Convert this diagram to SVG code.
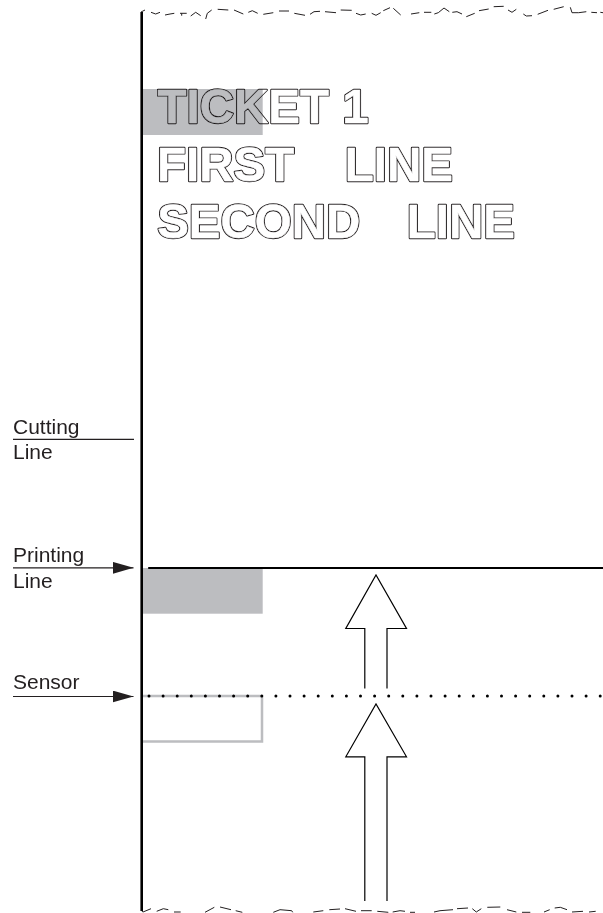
<svg xmlns="http://www.w3.org/2000/svg" width="603" height="913" viewBox="0 0 603 913">
<style>
.lbl{font-family:"Liberation Sans",Arial,sans-serif;font-size:21px;fill:#231f20}
.big{font-family:"Liberation Sans",Arial,sans-serif;font-weight:bold;font-size:47.500px;stroke-linejoin:round}
.o{fill:#231f20;stroke:#231f20;stroke-width:2.400px}
.i{fill:#fff;stroke:#fff;stroke-width:.5px}
.torn{fill:none;stroke:#231f20;stroke-width:1}
.arr{fill:#fff;stroke:#000;stroke-width:1.200;stroke-linejoin:miter}
.thin{stroke:#231f20;stroke-width:1.200;fill:none}
</style>
<defs>
<marker id="ah" markerUnits="userSpaceOnUse" markerWidth="21" markerHeight="12" refX="21" refY="6" orient="auto"><path d="M0 0L21 6L0 12z" fill="#231f20"/></marker>
<filter id="gray" x="0" y="0" width="1" height="1" color-interpolation-filters="sRGB"><feOffset dx="0" dy="0"/></filter>
</defs>
<rect width="603" height="913" fill="#fff"/>
<g id="ticket-text" class="big" filter="url(#gray)">
<g class="o"><text x="157.500" y="123.100">TICKET 1</text><text x="157.100" y="180.500"><tspan>FIRST</tspan><tspan x="344.700">LINE</tspan></text><text x="157.200" y="238.100"><tspan>SECOND</tspan><tspan x="406.700">LINE</tspan></text></g>
<g class="i"><text x="157.500" y="123.100">TICKET 1</text><text x="157.100" y="180.500"><tspan>FIRST</tspan><tspan x="344.700">LINE</tspan></text><text x="157.200" y="238.100"><tspan>SECOND</tspan><tspan x="406.700">LINE</tspan></text></g>
</g>
<g id="ticket-top-mark"><rect x="142.700" y="89" width="120" height="46" fill="#bcbdc0" style="mix-blend-mode:multiply"/></g>
<g id="mark-at-printing"><rect x="142.700" y="568" width="120" height="45.700" fill="#bcbdc0"/></g>
<g id="mark-at-sensor"><path d="M143 696H262V741.500H143" fill="none" stroke="#bcbdc0" stroke-width="2.500"/></g>
<g id="paper-edge">
<path d="M141.700 911V12" fill="none" stroke="#000" stroke-width="2.600"/>
<path class="torn" d="M141 12L145 10M151 12.300L155.700 14L160 12.300M165 15L170 14L174.300 13.300M180 13.300H186.700M181.700 13.300V15.700M190.700 16L195.700 12.300L200.700 15.700M205.700 19L207.300 13.300L211.700 10M217.700 9.300L228.300 10M234 10L243.300 14M248.300 12.300L252.300 10.700L257.700 13.300M263.300 14.300L273.300 12.700M279 11H289M294.300 13.300L305 15.300M310 14.300L314 11.700L320 11.300M325 11.700L336 12.700M340.700 10L351.700 10.300M356 13.300L360.700 15L365.700 14M371.700 13.300L376 15.300L380.700 12.700M383.300 10.700L390 7.700M393.300 8.300L400.700 15M411 14L419.300 12.700M424 12.300H431.300M434.300 14L438.300 12.700L444 8L449.300 11.700M452.300 12.300L457 11.700L462 14M466.300 16.700L474.700 13.300M479 10.700L488.700 9M493.700 6.700L503.700 6.300M508 10L512 12.300L516.300 9.300M523.300 14L526.300 16L532 15.700M537.700 14.300L548 10.300M553.700 9.300L563.700 6.700M570.300 7.300L572 12.700H578.700L586.300 11.700M591.300 12.300L597 12.700M600.300 12.300L603 12.700"/>
<path class="torn" d="M141.700 911L143 912L151 908.700M156.700 911.300L163.300 908.700L168.300 909.700M174 912H180.700M205 912.300L214.300 907.300M220 907L231 909.700M235.700 910.700L242.300 912.300M273.300 912.300L280 909.700L291.700 910.700L292.700 912.300M313.300 912L323.300 910.700M329.300 909.700L340 909M345 908.700L356 911.300M361 910.700H371.700M377.300 911.300L388.300 912.300M392.700 912L400 910.700L405 911.300M410 912.300H415M434 912L440 910.700L453 909.700M457 908.700L468 908M472.300 908.700L476.300 912L481.300 908.700M487.300 907.300L500.300 907M507 909.700L516.300 912M522 912.300H530.300M544 912L549.700 909.700M554.700 908L560.300 907.300L567 909.700M572 912L583 911.300M589 912L595.700 911.300"/>
</g>
<g id="label-cutting"><text class="lbl" x="13" y="434">Cutting</text><text class="lbl" x="13" y="459">Line</text></g>
<g id="label-printing"><text class="lbl" x="13" y="562">Printing</text><text class="lbl" x="13" y="588">Line</text></g>
<g id="label-sensor"><text class="lbl" x="13" y="689">Sensor</text></g>
<g id="connectors">
<line class="thin" x1="13" y1="439.300" x2="134" y2="439.300"/>
<line class="thin" x1="13" y1="567.800" x2="133.500" y2="567.800" marker-end="url(#ah)"/>
<line class="thin" x1="13" y1="696.500" x2="133.500" y2="696.500" marker-end="url(#ah)"/>
<line x1="149" y1="568" x2="603" y2="568" stroke="#000" stroke-width="2.200" stroke-linecap="round"/>
<line x1="149" y1="696" x2="603" y2="696" stroke="#000" stroke-width="3" stroke-linecap="round" stroke-dasharray="0 14.100"/>
<path class="arr" d="M364.800 688.500V628.500H345.800L376 575L406.500 628.500H387V688.500"/>
<path class="arr" d="M364.800 901V756.800H345.800L376 704L406.500 756.800H387V901"/>
</g>
</svg>
